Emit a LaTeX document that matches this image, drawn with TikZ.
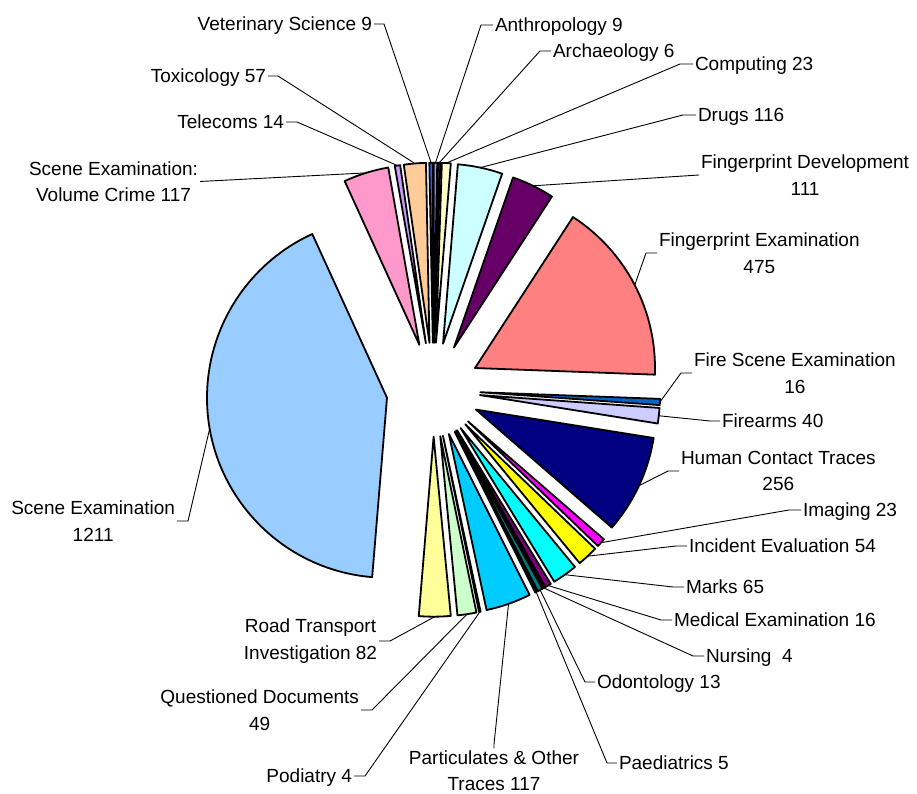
\documentclass[tikz,border=0pt]{standalone}
\usepackage{fontspec}
\setmainfont{Liberation Sans}
\usetikzlibrary{calc}
\definecolor{cAnth}{HTML}{9999FF}
\definecolor{cArch}{HTML}{993366}
\definecolor{cComp}{HTML}{FFFFCC}
\definecolor{cDrugs}{HTML}{CCFFFF}
\definecolor{cFD}{HTML}{660066}
\definecolor{cFE}{HTML}{FF8080}
\definecolor{cFire}{HTML}{0066CC}
\definecolor{cArms}{HTML}{CCCCFF}
\definecolor{cHCT}{HTML}{000080}
\definecolor{cImg}{HTML}{FF00FF}
\definecolor{cInc}{HTML}{FFFF00}
\definecolor{cMarks}{HTML}{00FFFF}
\definecolor{cMed}{HTML}{800080}
\definecolor{cNurs}{HTML}{800000}
\definecolor{cOdon}{HTML}{008080}
\definecolor{cPaed}{HTML}{0000FF}
\definecolor{cPart}{HTML}{00CCFF}
\definecolor{cPod}{HTML}{CCFFFF}
\definecolor{cQD}{HTML}{CCFFCC}
\definecolor{cRT}{HTML}{FFFF99}
\definecolor{cSE}{HTML}{99CCFF}
\definecolor{cSEVC}{HTML}{FF99CC}
\definecolor{cTel}{HTML}{CC99FF}
\definecolor{cTox}{HTML}{FFCC99}
\definecolor{cVet}{HTML}{3366FF}
\begin{document}
\begin{tikzpicture}[x=1pt,y=1pt,
  slice/.style={draw=black, line width=1.8pt, line join=round},
  lbl/.style={font=\fontsize{19}{26.5}\selectfont, inner sep=2pt, outer sep=0pt, text=black},
  lbla/.style={lbl, text height=13.6pt, text depth=0pt},
  lblb/.style={lbl, align=center},
  lead/.style={draw=black, line width=0.9pt}]
\useasboundingbox[fill=white] (0,0) rectangle (917,794);
\coordinate (C) at (433.3,404.3);
\xdef\cum{0}
\foreach \v/\col/\nm in {9/cAnth/anth, 6/cArch/arch, 23/cComp/comp, 116/cDrugs/drugs,
  111/cFD/fd, 475/cFE/fe, 16/cFire/fire, 40/cArms/arms, 256/cHCT/hct, 23/cImg/img,
  54/cInc/inc, 65/cMarks/marks, 16/cMed/med, 4/cNurs/nurs, 13/cOdon/odon, 5/cPaed/paed,
  117/cPart/part, 4/cPod/pod, 49/cQD/qd, 82/cRT/rt, 1211/cSE/se, 117/cSEVC/sevc,
  14/cTel/tel, 57/cTox/tox, 9/cVet/vet} {
  \pgfmathsetmacro\aS{90-\cum/2892*360}
  \pgfmathsetmacro\aE{90-(\cum+\v)/2892*360}
  \pgfmathsetmacro\aM{(\aS+\aE)/2}
  \draw[slice, fill=\col] ([shift={(\aM:47pt)}]C) coordinate (a-\nm) -- ++(\aS:180pt)
    arc[start angle=\aS, end angle=\aE, radius=180pt] -- cycle;
  \coordinate (m-\nm) at ([shift={(\aM:227pt)}]C);
  \pgfmathsetmacro\nc{\cum+\v}
  \xdef\cum{\nc}
}
% labels
\node[lbla, anchor=east] (vet) at (374,770) {Veterinary Science 9};
\node[lbla, anchor=east] (tox) at (268,718) {Toxicology 57};
\node[lbla, anchor=east] (tel) at (286,672) {Telecoms 14};
\node[lblb, anchor=east] (sevc) at (200,612.5) {Scene Examination:\\Volume Crime 117};
\node[lblb, anchor=east] (se) at (177,273) {Scene Examination\\1211};
\node[lblb, anchor=east] (rt) at (379,153) {Road Transport\\Investigation 82};
\node[lblb, anchor=east] (qd) at (361,84) {Questioned Documents\\49};
\node[lbla, anchor=east] (pod) at (354,18) {Podiatry 4};
\node[lbla, anchor=west] (anth) at (493,769) {Anthropology 9};
\node[lbla, anchor=west] (arch) at (551,743) {Archaeology 6};
\node[lbla, anchor=west] (comp) at (693,730) {Computing 23};
\node[lbla, anchor=west] (drugs) at (696,679) {Drugs 116};
\node[lblb, anchor=west] (fd) at (699,619) {Fingerprint Development\\111};
\node[lblb, anchor=west] (fe) at (657,541) {Fingerprint Examination\\475};
\node[lblb, anchor=west] (fire) at (692,421) {Fire Scene Examination\\16};
\node[lbla, anchor=west] (arms) at (720,373) {Firearms 40};
\node[lblb, anchor=west] (hct) at (679,323) {Human Contact Traces\\256};
\node[lbla, anchor=west] (img) at (801,284) {Imaging 23};
\node[lbla, anchor=west] (inc) at (687,248) {Incident Evaluation 54};
\node[lbla, anchor=west] (marks) at (684,207) {Marks 65};
\node[lbla, anchor=west] (med) at (672,174) {Medical Examination 16};
\node[lbla, anchor=west] (nurs) at (704,138) {Nursing~\ 4};
\node[lbla, anchor=west] (odon) at (595,112) {Odontology 13};
\node[lbla, anchor=west] (paed) at (617,31) {Paediatrics 5};
\node[lblb, anchor=center] (part) at (494,23.5) {Particulates \& Other\\Traces 117};
% leader lines
\draw[lead] (vet.east) -- ++(10,0) -- (m-vet);
\draw[lead] (tox.east) -- ++(10,0) -- (m-tox);
\draw[lead] (tel.east) -- ++(11,0) -- (m-tel);
\draw[lead] (sevc.east) -- (m-sevc);
\draw[lead] (se.east) -- ++(11,0) -- (m-se);
\draw[lead] (rt.east) -- ++(11,0) -- (m-rt);
\draw[lead] (qd.east) -- ++(11,0) -- (m-qd);
\draw[lead] (pod.east) -- ++(11,0) -- (m-pod);
\draw[lead] (anth.west) -- ++(-12,0) -- (m-anth);
\draw[lead] (arch.west) -- ++(-11,0) -- (m-arch);
\draw[lead] (comp.west) -- ++(-13,0) -- (m-comp);
\draw[lead] (drugs.west) -- ++(-13,0) -- (m-drugs);
\draw[lead] (fd.west) -- (m-fd);
\draw[lead] (fe.west) -- ++(-11,0) -- (m-fe);
\draw[lead] (fire.west) -- ++(-11,0) -- (m-fire);
\draw[lead] (arms.west) -- ++(-10,0) -- (m-arms);
\draw[lead] (hct.west) -- ++(-11,0) -- (m-hct);
\draw[lead] (img.west) -- ++(-12,0) -- (m-img);
\draw[lead] (inc.west) -- ++(-11,0) -- (m-inc);
\draw[lead] (marks.west) -- ++(-11,0) -- (m-marks);
\draw[lead] (med.west) -- ++(-11,0) -- (m-med);
\draw[lead] (nurs.west) -- ++(-11,0) -- (m-nurs);
\draw[lead] (odon.west) -- ++(-10,0) -- (m-odon);
\draw[lead] (paed.west) -- ++(-10,0) -- (m-paed);
\draw[lead] (part.north) -- ++(0,4) -- (m-part);
\end{tikzpicture}
\end{document}
